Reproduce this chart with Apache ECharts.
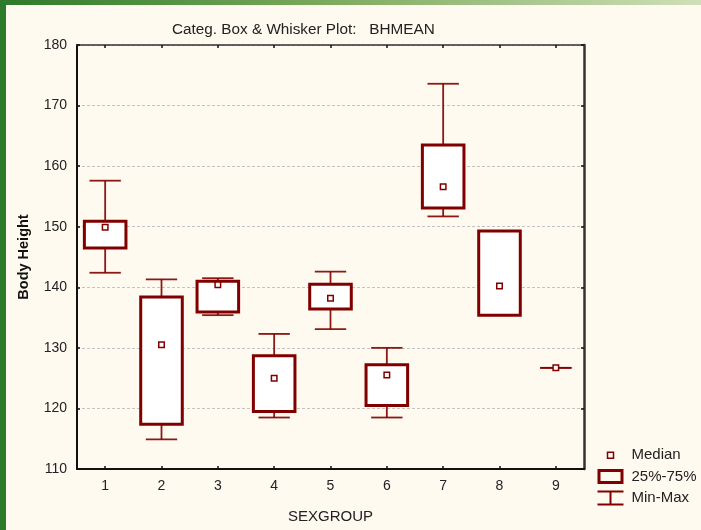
<!DOCTYPE html>
<html>
<head>
<meta charset="utf-8">
<script src="https://cdn.jsdelivr.net/npm/echarts@6/dist/echarts.min.js"></script>
<style>
html,body{margin:0;padding:0;background:#fffaf0;}
#chart{width:701px;height:530px;}
</style>
</head>
<body>
<div id="chart"></div>
<script>
// ---- data ----
var categories = ['1','2','3','4','5','6','7','8','9'];
var minVals    = [142.4, 114.9, 135.4, 118.5, 133.1, 118.5, 151.7, 135.4, 126.7];
var q1Vals     = [146.5, 117.4, 135.9, 119.5, 136.4, 120.5, 153.1, 135.4, 126.7];
var medianVals = [149.9, 130.5, 140.4, 125.0, 138.2, 125.5, 156.6, 140.2, 126.7];
var q3Vals     = [150.9, 138.4, 141.0, 128.7, 140.5, 127.2, 163.5, 149.3, 126.7];
var maxVals    = [157.6, 141.3, 141.5, 132.3, 142.6, 130.0, 173.6, 149.3, 126.7];
var yTicks     = [110, 120, 130, 140, 150, 160, 170, 180];

var FONT = '"Liberation Sans", Arial, sans-serif';
var RED = '#800000';

var boxData = categories.map(function (c, i) { return [i, q1Vals[i], q3Vals[i]]; });
var whiskerData = categories.map(function (c, i) { return [i, minVals[i], q1Vals[i], q3Vals[i], maxVals[i]]; });
var medianData = categories.map(function (c, i) { return [i, medianVals[i]]; });

var chart = echarts.init(document.getElementById('chart'), null, {renderer: 'canvas'});

chart.setOption({
  backgroundColor: '#fffaf0',
  animation: false,
  textStyle: {fontFamily: FONT},
  title: {
    text: 'Categ. Box & Whisker Plot:   BHMEAN',
    left: 167, top: 17,
    textStyle: {fontFamily: FONT, fontSize: 15.3, fontWeight: 'normal', color: '#222'}
  },
  graphic: [
    {type: 'rect', left: 0, top: 0, shape: {width: 6, height: 530}, style: {fill: '#2d7a2a'}, silent: true},
    {type: 'rect', left: 0, top: 0, shape: {width: 701, height: 5}, silent: true,
      style: {fill: new echarts.graphic.LinearGradient(0, 0, 1, 0, [
        {offset: 0, color: '#2d7a2a'}, {offset: 0.45, color: '#7aa85a'}, {offset: 1, color: '#cfe0b8'}])}}
  ],
  legend: {
    orient: 'vertical',
    left: 596, top: 447, padding: 0,
    itemWidth: 26, itemHeight: 15, itemGap: 4,
    selectedMode: false,
    textStyle: {fontFamily: FONT, fontSize: 15, color: '#222', padding: [0, 0, 0, 3]},
    data: [
      {name: 'Median', icon: 'path://M0 0M26 15M10 4.5h6v6h-6z',
        itemStyle: {color: 'transparent', borderColor: RED, borderWidth: 1.5}},
      {name: '25%-75%', icon: 'path://M0 0M26 15M1.5 1.5h23v12h-23z',
        itemStyle: {color: 'transparent', borderColor: RED, borderWidth: 3}},
      {name: 'Min-Max', icon: 'path://M0 0M26 15M0 1h26M13 1v13M0 14h26',
        itemStyle: {color: 'transparent', borderColor: RED, borderWidth: 2}}
    ]
  },
  grid: {left: 77, right: 117, top: 45, bottom: 61, show: false},
  xAxis: [{
    type: 'category', data: categories, position: 'bottom',
    name: 'SEXGROUP', nameLocation: 'middle', nameGap: 40,
    nameTextStyle: {fontFamily: FONT, fontSize: 15, color: '#222'},
    axisLine: {show: true, lineStyle: {color: '#111', width: 2}},
    axisTick: {show: true, inside: true, length: 3, alignWithLabel: true, lineStyle: {color: '#111', width: 1.5}},
    axisLabel: {fontFamily: FONT, fontSize: 14, color: '#222', margin: 10},
    splitLine: {show: false}
  }, {
    type: 'category', data: categories, position: 'top',
    axisLine: {show: true, onZero: false, lineStyle: {color: '#333', width: 1.5}},
    axisTick: {show: true, inside: true, length: 3, alignWithLabel: true, lineStyle: {color: '#111', width: 1.5}},
    axisLabel: {show: false},
    splitLine: {show: false}
  }],
  yAxis: [{
    type: 'value', min: yTicks[0], max: yTicks[yTicks.length - 1], interval: 10,
    name: 'Body Height', nameLocation: 'middle', nameGap: 46,
    nameTextStyle: {fontFamily: FONT, fontSize: 14.5, fontWeight: 'bold', color: '#111'},
    axisLine: {show: true, lineStyle: {color: '#111', width: 2}},
    axisTick: {show: true, inside: true, length: 3, lineStyle: {color: '#111', width: 1.5}},
    axisLabel: {fontFamily: FONT, fontSize: 14, color: '#222', margin: 10},
    splitLine: {show: true, lineStyle: {color: '#c4c4c4', width: 1, type: [3, 2]}}
  }, {
    type: 'value', min: yTicks[0], max: yTicks[yTicks.length - 1], interval: 10, position: 'right',
    axisLine: {show: true, onZero: false, lineStyle: {color: '#333', width: 2.5}},
    axisTick: {show: true, inside: true, length: 3, lineStyle: {color: '#111', width: 1.5}},
    axisLabel: {show: false},
    splitLine: {show: false}
  }],
  series: [{
    name: 'Min-Max', type: 'custom', xAxisIndex: 0, yAxisIndex: 0, z: 2,
    data: whiskerData,
    encode: {x: 0, y: [1, 2, 3, 4]},
    renderItem: function (params, api) {
      var x = api.value(0);
      var pMin = api.coord([x, api.value(1)]);
      var pQ1 = api.coord([x, api.value(2)]);
      var pQ3 = api.coord([x, api.value(3)]);
      var pMax = api.coord([x, api.value(4)]);
      var half = api.size([1, 0])[0] * 0.557 / 2;
      var st = {stroke: RED, lineWidth: 1.8, opacity: 0.9};
      return {type: 'group', children: [
        {type: 'line', shape: {x1: pMin[0], y1: pMin[1], x2: pQ1[0], y2: pQ1[1]}, style: st},
        {type: 'line', shape: {x1: pQ3[0], y1: pQ3[1], x2: pMax[0], y2: pMax[1]}, style: st},
        {type: 'line', shape: {x1: pMin[0] - half, y1: pMin[1], x2: pMin[0] + half, y2: pMin[1]}, style: st},
        {type: 'line', shape: {x1: pMax[0] - half, y1: pMax[1], x2: pMax[0] + half, y2: pMax[1]}, style: st}
      ]};
    }
  }, {
    name: '25%-75%', type: 'custom', xAxisIndex: 0, yAxisIndex: 0, z: 3,
    data: boxData,
    encode: {x: 0, y: [1, 2]},
    renderItem: function (params, api) {
      var x = api.value(0);
      var lo = api.value(1), hi = api.value(2);
      if (hi === lo) { return {type: 'group', children: []}; }
      var pHi = api.coord([x, hi]);
      var pLo = api.coord([x, lo]);
      var w = api.size([1, 0])[0] * 0.738;
      return {type: 'rect',
        shape: {x: pHi[0] - w / 2, y: pHi[1], width: w, height: pLo[1] - pHi[1]},
        style: {fill: '#fff', stroke: RED, lineWidth: 3}};
    }
  }, {
    name: 'Median', type: 'scatter', xAxisIndex: 0, yAxisIndex: 0, z: 4,
    data: medianData,
    symbol: 'rect', symbolSize: 5.5,
    itemStyle: {color: '#fff', borderColor: RED, borderWidth: 1.5, opacity: 1}
  }]
});
</script>
</body>
</html>
